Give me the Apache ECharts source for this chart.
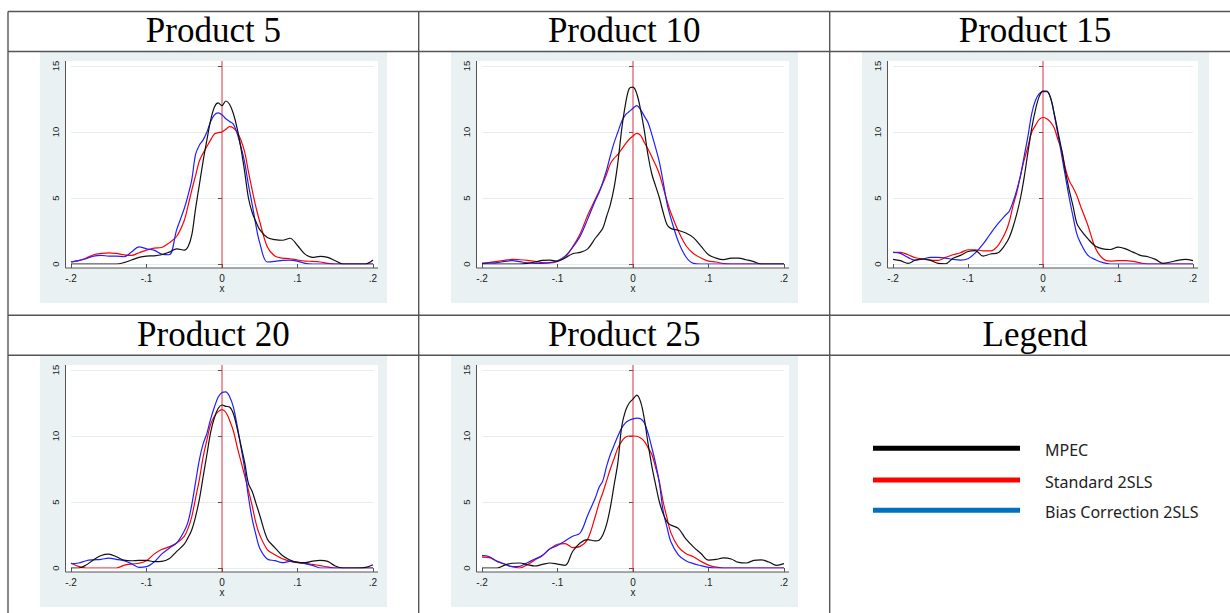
<!DOCTYPE html>
<html><head><meta charset="utf-8">
<script src="https://cdn.jsdelivr.net/npm/echarts@6/dist/echarts.min.js"></script>
<style>html,body{margin:0;padding:0;background:#fff}#c{width:1230px;height:613px}</style>
</head><body><div id="c"></div><script>
// ---- data ----
const xs = [-0.2,-0.19,-0.18,-0.17,-0.16,-0.15,-0.14,-0.13,-0.12,-0.11,-0.1,-0.09,-0.08,-0.07,-0.06,
  -0.05,-0.045,-0.04,-0.035,-0.03,-0.025,-0.02,-0.015,-0.01,-0.005,0,0.005,0.01,0.015,0.02,0.025,0.03,0.035,0.04,0.045,0.05,
  0.06,0.07,0.08,0.09,0.1,0.11,0.12,0.13,0.14,0.15,0.16,0.17,0.18,0.19,0.2];
const panelTitles = ['Product 5','Product 10','Product 15','Product 20','Product 25'];
const legendTitle = 'Legend';
const seriesNames = ['MPEC','Standard 2SLS','Bias Correction 2SLS'];
const xTicks = [-0.2,-0.1,0,0.1,0.2];
const yTicks = [0,5,10,15];

const mpec5 = [0,0,0,0,0,0,0,0.1,0.3,0.5,0.6,0.62,0.7,0.9,1.15,
  1.05,1.3,2.2,4.2,6.0,7.8,9.4,10.9,11.9,12.2,12.0,12.35,12.1,11.4,10.3,8.8,7.0,5.0,3.9,3.2,2.6,
  2.0,1.85,1.8,1.95,1.4,0.75,0.5,0.58,0.5,0.25,0,0,0,0,0.3];
const std5 = [0.15,0.25,0.45,0.7,0.8,0.85,0.8,0.7,0.65,0.85,1.05,1.2,1.25,1.6,2.1,
  3.3,4.4,5.6,6.7,7.8,8.4,8.9,9.4,9.85,9.95,10.0,10.2,10.4,10.3,10.0,9.4,8.5,7.0,5.6,4.3,3.2,
  1.3,0.6,0.45,0.4,0.3,0.22,0.2,0.15,0.05,0,0,0,0,0,0];
const bias5 = [0.15,0.25,0.4,0.6,0.65,0.6,0.6,0.55,0.9,1.3,1.15,1.05,0.75,0.7,2.6,
  4.2,5.2,6.4,8.3,9.0,9.4,10.0,10.8,11.3,11.45,11.3,11.0,10.8,10.6,9.9,8.9,7.7,6.0,4.5,2.9,1.6,
  0.15,0.2,0.28,0.3,0.22,0.05,0,0,0,0,0,0,0,0,0];

const mpec10 = [0,0,0,0,0,0,0.05,0.15,0.27,0.3,0.22,0.45,0.78,0.88,1.15,
  1.95,2.3,2.7,3.6,4.5,5.8,7.7,10.2,12.1,13.3,13.4,12.9,11.7,10.1,8.2,6.8,5.9,5.0,3.9,3.0,2.7,
  2.55,2.35,2.0,1.35,0.7,0.45,0.33,0.45,0.45,0.32,0.18,0,0,0,0];
const std10 = [0.05,0.12,0.2,0.28,0.35,0.32,0.27,0.2,0.1,0.08,0.2,0.5,1.3,2.3,3.7,
  4.9,5.5,6.1,6.8,7.6,8.0,8.3,8.7,9.1,9.45,9.7,9.9,9.75,9.2,8.7,8.1,7.5,6.8,5.8,4.8,3.9,
  2.5,1.4,0.8,0.45,0.22,0.15,0.03,0,0,0,0,0,0,0,0];
const bias10 = [0.05,0.08,0.1,0.2,0.25,0.18,0.08,0.05,0.05,0.1,0.25,0.6,1.25,2.1,3.4,
  4.8,5.4,6.2,7.1,8.2,9.2,10.0,10.8,11.3,11.55,11.8,12.0,11.7,11.2,10.7,9.8,8.8,7.7,6.2,4.6,3.5,
  1.7,0.55,0.05,0,0,0,0,0,0,0,0,0,0,0,0];

const mpec15 = [0.35,0.25,0.05,0.3,0.38,0.28,0.05,0.02,0.43,0.65,0.95,1.02,0.6,0.76,0.85,
  1.5,2.0,2.8,3.8,5.0,6.6,8.5,10.3,11.7,12.7,13.1,13.1,12.6,11.4,10.0,8.6,7.0,5.6,4.4,3.1,2.6,
  1.9,1.35,1.15,1.1,1.28,1.15,0.9,0.65,0.55,0.35,0.05,0.15,0.28,0.35,0.25];
const std15 = [0.88,0.88,0.7,0.47,0.38,0.3,0.28,0.5,0.7,0.85,1.08,1.08,1.0,1.0,1.4,
  2.4,3.2,4.4,5.4,6.7,7.9,8.9,10.0,10.5,10.95,11.1,11.0,10.75,10.3,9.4,8.6,7.2,6.3,5.8,5.2,4.4,
  2.9,1.2,0.4,0.22,0.25,0.25,0.2,0.08,0,0,0,0,0,0,0];
const bias15 = [0.88,0.8,0.5,0.28,0.38,0.5,0.5,0.45,0.35,0.3,0.4,0.85,1.5,2.3,3.05,
  3.7,4.0,4.7,5.6,6.7,8.2,9.7,11.4,12.4,12.9,13.05,13.05,12.6,11.3,9.8,8.2,6.6,5.0,3.6,2.3,1.6,
  0.65,0.32,0.1,0,0,0,0,0,0,0,0,0,0,0,0];

const mpec20 = [0,0,0.22,0.63,0.95,1.05,0.85,0.6,0.55,0.58,0.58,0.48,0.5,0.7,1.26,
  1.8,2.3,2.9,3.9,5.2,6.9,8.6,10.3,11.4,12.1,12.35,12.25,12.2,11.7,10.6,9.3,8.0,6.4,5.8,4.9,4.0,
  2.2,1.55,0.95,0.6,0.42,0.4,0.52,0.58,0.5,0.15,0,0,0,0.05,0.25];
const std20 = [0.38,0.12,0,0,0,0,0,0.2,0.3,0.36,0.55,1.05,1.4,1.6,1.9,
  2.4,3.0,3.9,5.3,6.7,8.4,9.7,10.9,11.5,11.85,12.0,11.8,11.2,10.4,9.2,8.1,7.0,5.9,4.7,3.4,2.5,
  1.4,1.0,0.7,0.52,0.4,0.35,0.27,0.18,0.08,0,0,0,0,0,0];
const bias20 = [0.33,0.38,0.55,0.62,0.66,0.75,0.66,0.55,0.33,0.05,0.1,0.45,1.05,1.5,1.9,
  2.8,3.5,4.8,6.5,8.2,9.4,10.2,11.3,12.2,12.95,13.3,13.35,13.0,12.2,10.8,9.2,7.5,5.4,3.7,2.5,1.5,
  0.68,0.56,0.4,0.5,0.45,0.33,0.2,0,0,0,0,0,0,0,0];

const mpec25 = [0,0,0,0.22,0.36,0.38,0.25,0.15,0.27,0.38,0.3,0.2,1.25,1.9,2.15,
  2.05,2.1,2.5,3.3,4.6,6.3,8.0,10.7,11.9,12.5,12.8,13.1,12.6,11.3,9.4,7.7,6.3,5.0,4.1,3.5,3.25,
  3.0,2.2,1.6,1.1,0.6,0.65,0.76,0.68,0.42,0.38,0.58,0.62,0.45,0.2,0.33];
const std25 = [0.83,0.78,0.5,0.3,0.1,0,0.25,0.6,0.95,1.45,1.8,1.85,1.55,1.64,2.2,
  3.9,4.9,5.7,6.6,7.5,8.3,9.1,9.6,9.9,10.0,10.0,9.98,9.85,9.6,9.1,8.6,7.6,6.5,5.0,3.8,2.7,
  1.6,1.1,0.85,0.5,0.22,0.06,0,0,0,0,0,0,0,0,0];
const bias25 = [0.93,0.85,0.5,0.3,0.1,0.13,0.4,0.68,0.95,1.45,1.7,2.05,2.4,2.65,4.0,
  5.3,6.1,6.6,7.7,8.6,9.3,10.0,10.6,11.0,11.2,11.3,11.35,11.3,11.0,10.2,9.1,7.9,6.4,4.3,3.1,2.0,
  1.0,0.55,0.33,0.18,0.05,0,0,0,0,0,0,0,0,0,0];

const panelData = [[mpec5,std5,bias5],[mpec10,std10,bias10],[mpec15,std15,bias15],[mpec20,std20,bias20],[mpec25,std25,bias25]];

// ---- styling / layout ----
const lineColors = ['#111111','#ff0000','#1f1fff'];
const legendColors = ['#000000','#ff0000','#0070c0'];
const panels = [{l:71,t:66,w:302},{l:482,t:66,w:302},{l:893,t:66,w:300},{l:71,t:370,w:302},{l:482,t:370,w:302}];
const H = 198;
const BG = '#e9f1f3';
const AX = '#555555';
const TBL = '#555555';

const chart = echarts.init(document.getElementById('c'), null, {renderer:'svg', width:1230, height:613});

function fmtX(v){ const r = Math.round(v*10)/10; return r===0 ? '0' : String(r).replace('0.', '.'); }

const grid=[], xAxis=[], yAxis=[], series=[];
panels.forEach((p,i)=>{
  grid.push({left:p.l, top:p.t, width:p.w, height:H, containLabel:false, outerBoundsMode:'none'});
  xAxis.push({type:'value', gridIndex:i, min:xTicks[0], max:xTicks[xTicks.length-1], interval:0.1, offset:4,
    name:'x', nameLocation:'middle', nameGap:15, nameTextStyle:{fontSize:10, color:'#222', fontFamily:'Liberation Sans'},
    axisLine:{show:false}, axisTick:{show:true, length:4, lineStyle:{color:AX}},
    axisLabel:{formatter:fmtX, fontSize:10, color:'#222', margin:5, fontFamily:'Liberation Sans'},
    splitLine:{show:false}});
  yAxis.push({type:'value', gridIndex:i, min:yTicks[0], max:yTicks[yTicks.length-1], interval:5, offset:5.5,
    axisLine:{show:false}, axisTick:{show:true, length:4, lineStyle:{color:AX}},
    axisLabel:{fontSize:9.5, color:'#222', rotate:90, margin:5, fontFamily:'Liberation Sans'},
    splitLine:{show:true, lineStyle:{color:'#e3ecef', width:1}}});
  const order = [1,2,0];
  order.forEach(k=>{
    series.push({type:'line', name:seriesNames[k], xAxisIndex:i, yAxisIndex:i, showSymbol:false, smooth:0.35,
      silent:true, animation:false, z: k===0?4:3,
      lineStyle:{color:lineColors[k], width:1.2}, itemStyle:{color:lineColors[k]},
      data: xs.map((x,j)=>[x, panelData[i][k][j]])});
  });
});

chart.setOption({animation:false, backgroundColor:'#fff', grid, xAxis, yAxis, series});

// ---- graphics (table, backgrounds, axis lines, zero reference lines, legend) ----
const g = [];
panels.forEach((p,i)=>{
  g.push({type:'rect', z:-20, silent:true, shape:{x:p.l-31, y:p.t-14, width:347, height:251}, style:{fill:BG}});
  g.push({type:'rect', z:-15, silent:true, shape:{x:p.l-5.5, y:p.t-5, width:p.w+10.5, height:H+9}, style:{fill:'#fff'}});
  g.push({type:'line', z:5, silent:true, shape:{x1:p.l-5.5, y1:p.t-5, x2:p.l-5.5, y2:p.t+H+4}, style:{stroke:AX, lineWidth:1}});
  g.push({type:'line', z:5, silent:true, shape:{x1:p.l-5.5, y1:p.t+H+4, x2:p.l+p.w+5, y2:p.t+H+4}, style:{stroke:AX, lineWidth:1}});
  const px = chart.convertToPixel({xAxisIndex:i}, 0);
  g.push({type:'line', z:1, silent:true, shape:{x1:px, y1:p.t-5, x2:px, y2:p.t+H+4}, style:{stroke:'#d7303c', lineWidth:1}});
});
// table lines
const hLines = [11.5, 51.5, 315.3, 355.3];
const vLines = [8, 418.7, 829.7];
hLines.forEach(y=>g.push({type:'line', z:10, silent:true, shape:{x1:8, y1:y, x2:1232, y2:y}, style:{stroke:TBL, lineWidth:1.4}}));
vLines.forEach(x=>g.push({type:'line', z:10, silent:true, shape:{x1:x, y1:11.5, x2:x, y2:615}, style:{stroke:TBL, lineWidth:1.4}}));
// titles
const colCenters = [213.4, 624.2, 1035];
const titleY = [30.5, 334.3];
const titles = [panelTitles[0],panelTitles[1],panelTitles[2],panelTitles[3],panelTitles[4],legendTitle];
titles.forEach((t,i)=>{
  g.push({type:'text', z:10, silent:true, style:{text:t, x:colCenters[i%3], y:titleY[Math.floor(i/3)],
    font:'35px "Liberation Serif"', fill:'#000', align:'center', verticalAlign:'middle', textAlign:'center', textVerticalAlign:'middle'}});
});
// legend
const legY = [448.3, 480, 510.3];
seriesNames.forEach((n,k)=>{
  g.push({type:'line', z:10, silent:true, shape:{x1:873, y1:legY[k], x2:1020, y2:legY[k]}, style:{stroke:legendColors[k], lineWidth:5}});
  g.push({type:'text', z:10, silent:true, style:{text:n, x:1045, y:legY[k]+1.5, font:'16px "Noto Sans"', fill:'#222',
    align:'left', verticalAlign:'middle', textAlign:'left', textVerticalAlign:'middle'}});
});
chart.setOption({graphic:{elements:g}});
</script></body></html>
